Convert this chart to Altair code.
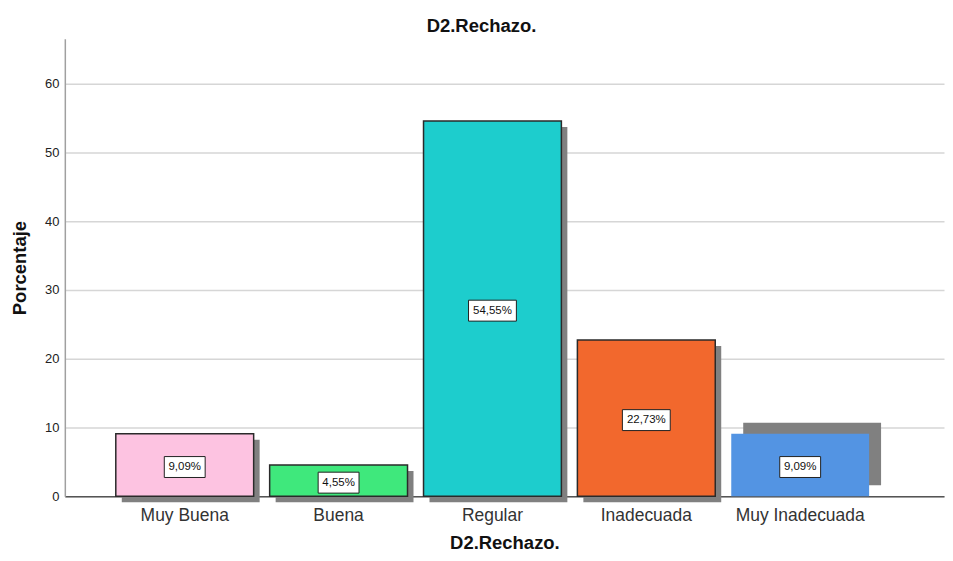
import altair as alt
import pandas as pd

categories = ["Muy Buena", "Buena", "Regular", "Inadecuada", "Muy Inadecuada"]
percentages = [9.09, 4.55, 54.55, 22.73, 9.09]
colors = ["#FDC3E1", "#3FE87C", "#1DCDCD", "#F2682D", "#5394E3"]
y_ticks = [0, 10, 20, 30, 40, 50, 60]

df = pd.DataFrame({"cat": categories, "pct": percentages})

FONT = "Liberation Sans"

x_enc = alt.X(
    "cat:N",
    sort=categories,
    scale=alt.Scale(paddingInner=0.104, paddingOuter=0.409, align=0.405),
    axis=alt.Axis(
        title="D2.Rechazo.",
        labelAngle=0,
        ticks=False,
        domainColor="#555555",
        domainWidth=1.5,
        labelFont=FONT,
        labelFontSize=17.5,
        labelColor="#333333",
        labelPadding=10,
        titleFont=FONT,
        titleFontSize=18.5,
        titleFontWeight="bold",
        titleColor="#111111",
        titleY=52,
        titleBaseline="alphabetic",
        grid=False,
    ),
)

y_scale = alt.Scale(domain=[0, 66.5], nice=False)

shadow_main = (
    alt.Chart(df)
    .transform_filter(alt.datum.cat != "Muy Inadecuada")
    .mark_bar(color="#808080", xOffset=6, yOffset=6)
    .encode(x=x_enc, y=alt.Y("pct:Q", scale=y_scale))
)

shadow_last = (
    alt.Chart(df)
    .transform_filter(alt.datum.cat == "Muy Inadecuada")
    .mark_bar(color="#808080", xOffset=12, yOffset=-11)
    .encode(x=x_enc, y=alt.Y("pct:Q", scale=y_scale))
)

bars = (
    alt.Chart(df)
    .mark_bar(stroke="#2a2a2a")
    .encode(
        x=x_enc,
        y=alt.Y(
            "pct:Q",
            scale=y_scale,
            axis=alt.Axis(
                title="Porcentaje",
                values=y_ticks,
                ticks=False,
                grid=True,
                gridColor="#d6d6d6",
                gridWidth=1.5,
                domainColor="#a0a0a0",
                domainWidth=1.5,
                labelFont=FONT,
                labelFontSize=13,
                labelColor="#222222",
                labelPadding=6,
                titleFont=FONT,
                titleFontSize=18.5,
                titleFontWeight="bold",
                titleColor="#111111",
                titleX=-45,
                titleBaseline="middle",
            ),
        ),
        color=alt.Color("cat:N", sort=categories,
                        scale=alt.Scale(domain=categories, range=colors), legend=None),
        strokeWidth=alt.condition(alt.datum.cat == "Muy Inadecuada",
                                  alt.value(0), alt.value(1.5)),
    )
)

label_base = (
    alt.Chart(df)
    .transform_calculate(
        mid="datum.pct / 2",
        label="replace(format(datum.pct, '.2f'), '.', ',') + '%'",
    )
    .transform_calculate(w="length(datum.label) * 7 + 6")
    .transform_calculate(
        sz="datum.w * datum.w",
        shp="'M-1,-' + (21 / datum.w) + 'H1V' + (21 / datum.w) + 'H-1Z'",
    )
)

boxes = label_base.mark_point(
    filled=True, fill="white", stroke="#222222", strokeWidth=1, opacity=1, yOffset=2
).encode(
    x=alt.X("cat:N", sort=categories),
    y=alt.Y("mid:Q", scale=y_scale),
    size=alt.Size("sz:Q", scale=None, legend=None),
    shape=alt.Shape("shp:N", scale=None, legend=None),
)

texts = label_base.mark_text(
    font=FONT, fontSize=11.5, color="#111111", baseline="middle", align="center", yOffset=2
).encode(
    x=alt.X("cat:N", sort=categories),
    y=alt.Y("mid:Q", scale=y_scale),
    text="label:N",
)

chart = (
    alt.layer(shadow_main, shadow_last, bars, boxes, texts)
    .properties(
        width=882,
        height=459,
        title=alt.TitleParams(
            "D2.Rechazo.", font=FONT, fontSize=18.5, fontWeight="bold",
            color="#111111", anchor="middle", dx=-23, offset=3,
        ),
        autosize=alt.AutoSizeParams(type="none"),
        padding={"left": 57, "top": 30, "right": 1, "bottom": 56},
    )
    .configure_view(stroke=None)
    .configure_axis(labelOverlap=False)
)

chart.save("out.html", embed_options={"renderer": "svg", "actions": False})
